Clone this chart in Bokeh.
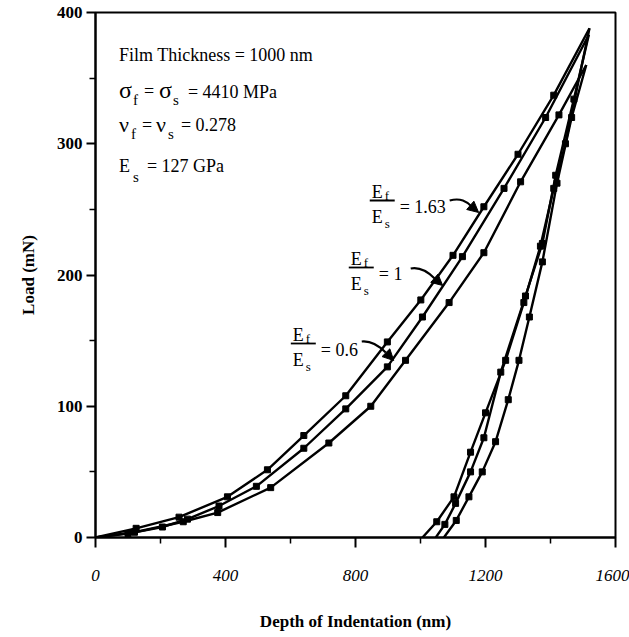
from bokeh.plotting import figure
from bokeh.models import Range1d, FixedTicker, Arrow, NormalHead
from bokeh.embed import file_html
from bokeh.resources import INLINE
from bokeh.core.properties import value

# ---------------- data ----------------
# loading curves (depth nm, load mN)
load_163_depth = [0, 125, 257, 406, 529, 641, 770, 898, 1001, 1100, 1195, 1300, 1410, 1520]
load_163_load = [0, 7, 15.5, 31, 51.6, 77.7, 108, 149, 181, 215, 252, 292, 337, 388]

load_100_depth = [0, 100, 206, 283, 380, 495, 641, 770, 898, 1006, 1129, 1257, 1385, 1518]
load_100_load = [0, 3, 8, 14, 24, 39, 68, 98, 130, 168, 214, 266, 320, 383]

load_060_depth = [0, 120, 270, 376, 539, 718, 847, 954, 1088, 1195, 1308, 1426, 1510]
load_060_load = [0, 4, 12, 19, 38, 72, 100, 135, 179, 217, 271, 322, 360]

# unloading curves
unload_163_depth = [1520, 1446, 1410, 1369, 1318, 1262, 1200, 1154, 1103, 1050, 1006]
unload_163_load = [388, 300, 266, 222, 179, 135, 95, 65, 31, 12, 0]

unload_100_depth = [1518, 1472, 1416, 1375, 1323, 1247, 1195, 1154, 1108, 1075, 1047]
unload_100_load = [383, 334, 276, 224, 184, 126, 76, 50, 26, 10, 0]

unload_060_depth = [1510, 1465, 1420, 1375, 1335, 1303, 1270, 1231, 1190, 1149, 1110, 1072]
unload_060_load = [360, 320, 270, 210, 168, 135, 105, 73, 50, 31, 13, 0]

x_ticks = [0, 400, 800, 1200, 1600]
x_minor = [200, 600, 1000, 1400]
y_ticks = [0, 100, 200, 300, 400]
y_minor = [50, 150, 250, 350]

# ---------------- figure ----------------
SERIF = "Liberation Serif"

p = figure(width=629, height=637,
           x_range=Range1d(0, 1600), y_range=Range1d(0, 400),
           min_border_left=95, min_border_right=14, min_border_top=12, min_border_bottom=100,
           output_backend="svg", toolbar_location=None)
p.background_fill_color = "white"
p.border_fill_color = "white"
p.xgrid.visible = False
p.ygrid.visible = False
p.outline_line_color = "black"
p.outline_line_width = 2

p.xaxis.ticker = FixedTicker(ticks=x_ticks, minor_ticks=x_minor)
p.yaxis.ticker = FixedTicker(ticks=y_ticks, minor_ticks=y_minor)

for ax in (p.xaxis, p.yaxis):
    ax.axis_line_width = 2
    ax.axis_line_color = "black"
    ax.major_tick_line_width = 2
    ax.minor_tick_line_width = 1.5
    ax.major_tick_line_color = "black"
    ax.minor_tick_line_color = "black"
    ax.major_tick_in = 0
    ax.minor_tick_in = 0
    ax.major_label_text_color = "black"
    ax.axis_label_text_color = "black"
    ax.axis_label_text_font = SERIF
    ax.major_label_text_font = SERIF
    ax.axis_label_text_font_style = "bold"
    ax.axis_label_text_font_size = "17px"
    ax.major_label_text_font_size = "17px"

p.xaxis.major_tick_out = 10
p.xaxis.minor_tick_out = 6
p.xaxis.major_label_standoff = 22
p.xaxis.major_label_text_font_style = "italic"
p.xaxis.axis_label = "Depth of Indentation (nm)"
p.xaxis.axis_label_standoff = 28

p.yaxis.major_tick_out = 9
p.yaxis.minor_tick_out = 6
p.yaxis.major_label_standoff = 4
p.yaxis.major_label_text_font_style = "bold"
p.yaxis.axis_label = "Load (mN)"
p.yaxis.axis_label_standoff = 16

# ---------------- curves ----------------
curves = [
    (load_163_depth, load_163_load),
    (load_100_depth, load_100_load),
    (load_060_depth, load_060_load),
    (unload_163_depth, unload_163_load),
    (unload_100_depth, unload_100_load),
    (unload_060_depth, unload_060_load),
]
for xs, ys in curves:
    p.line(xs, ys, line_color="black", line_width=2.4)
    p.scatter(xs[1:-1], ys[1:-1], marker="square", size=6, fill_color="black", line_color="black")

# ---------------- annotations (pixel helper) ----------------
X0, XS, Y0, YS = 94.5, 0.3253, 537.0, 1.3125


def dx(px):
    return (px - X0) / XS


def dy(py):
    return (Y0 - py) / YS


def txt(px, py, s, size="18px", style="normal", align="left"):
    p.text(x=[dx(px)], y=[dy(py)], text=[s], text_font=value(SERIF),
           text_font_size=size, text_font_style=style, text_align=align,
           text_baseline="alphabetic", text_color="black")


# parameter block
txt(118, 54, "Film Thickness = 1000 nm")
txt(118, 89, "σ", size="24px")
txt(132, 99, "f", size="15px")
txt(143, 90, "=")
txt(158, 89, "σ", size="24px")
txt(172, 99, "s", size="15px")
txt(187, 91, "= 4410 MPa")

txt(118, 124, "ν", size="22px")
txt(130, 133, "f", size="15px")
txt(141, 124, "=")
txt(155, 124, "ν", size="22px")
txt(167, 133, "s", size="15px")
txt(180, 124, "= 0.278")

txt(118, 165, "E")
txt(132, 176, "s", size="15px")
txt(146, 165, "= 127 GPa")


# fraction labels E_f / E_s = ...
def frac(px, pbar, label):
    # px: left of E ; pbar: y of fraction bar
    txt(px, pbar - 9, "E")
    txt(px + 13, pbar - 5, "f", size="13px")
    p.line([dx(px - 2), dx(px + 23)], [dy(pbar), dy(pbar)], line_color="black", line_width=1.8)
    txt(px, pbar + 16, "E")
    txt(px + 13, pbar + 23, "s", size="13px")
    txt(px + 28, pbar + 6, label)


frac(371, 200, "= 1.63")
frac(350, 267, "=  1")
frac(292, 343, "= 0.6")


def curved_arrow(s, c0, c1, e, tip):
    p.bezier(x0=[dx(s[0])], y0=[dy(s[1])], x1=[dx(e[0])], y1=[dy(e[1])],
             cx0=[dx(c0[0])], cy0=[dy(c0[1])], cx1=[dx(c1[0])], cy1=[dy(c1[1])],
             line_color="black", line_width=2.2)
    p.add_layout(Arrow(end=NormalHead(size=11, fill_color="black", line_color="black"),
                       x_start=dx(e[0]), y_start=dy(e[1]), x_end=dx(tip[0]), y_end=dy(tip[1]),
                       line_color="black", line_width=2.2))


curved_arrow((449, 200), (460, 197), (466, 201), (471, 206), (478, 212))
curved_arrow((410, 268), (420, 266), (428, 272), (434, 278), (442, 285))
curved_arrow((361, 341), (371, 340), (379, 346), (385, 352), (393, 360))

open("out.html", "w").write(file_html(p, INLINE))
